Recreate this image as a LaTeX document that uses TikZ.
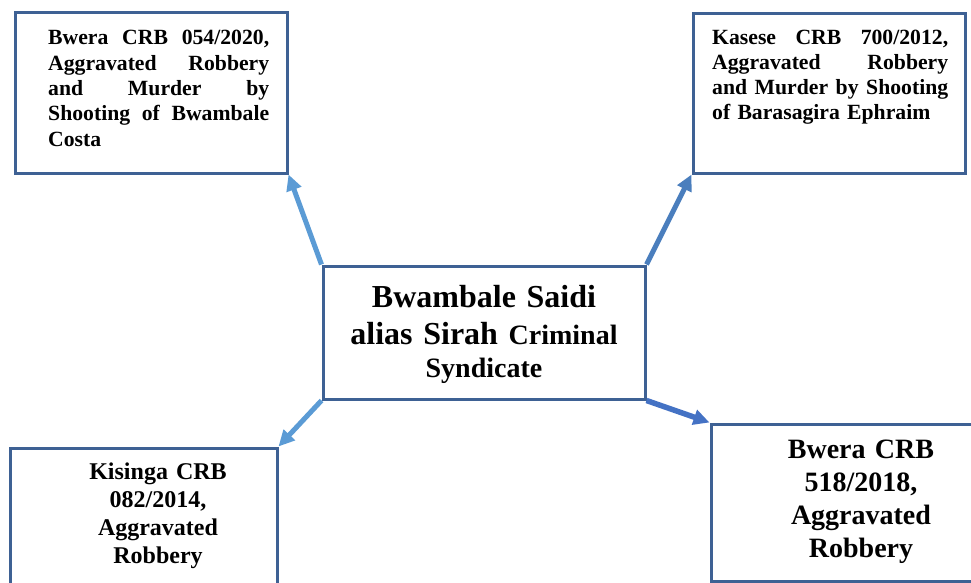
\documentclass[tikz,border=0pt]{standalone}
\usepackage{fontspec}
\setmainfont{Liberation Serif}
\usetikzlibrary{arrows.meta}

\definecolor{boxline}{HTML}{3E6194}
\definecolor{linklight}{HTML}{5B9BD5}
\definecolor{linkmid}{HTML}{4A7EBD}
\definecolor{linkdeep}{HTML}{4472C4}

% a line spread over the full text width (justified line);
% the gaps are marked with \hfill
\newcommand\fullline[1]{\makebox[\linewidth][s]{#1}}

\begin{document}
\begin{tikzpicture}[x=1pt,y=-1pt]
\tikzset{
  casebox/.style={draw=boxline, line width=3pt, rectangle, inner sep=0pt, fill=white},
  link/.style={line width=5pt, -{Triangle[length=16pt,width=15pt]}},
  lbl/.style={inner sep=0pt},
}
\clip (0,0) rectangle (971,583);

% case boxes
\node[casebox, minimum width=272pt, minimum height=160pt] (b1) at (151,93) {};
\node[casebox, minimum width=272pt, minimum height=159pt] (b2) at (829,93.5) {};
\node[casebox, minimum width=322pt, minimum height=133pt] (c) at (484,332.5) {};
\node[casebox, minimum width=267pt, minimum height=202pt] (b3) at (143.5,549) {};
\node[casebox, minimum width=289pt, minimum height=157pt] (b4) at (855.5,502.5) {};

% texts
\node[lbl, anchor=base west, text width=221pt,
      font=\bfseries\fontsize{21.7}{25.3}\selectfont] (t1) at (48,45)
  {\fullline{Bwera \hfill CRB \hfill 054/2020,}\\
   \fullline{Aggravated \hfill Robbery}\\
   \fullline{and \hfill Murder \hfill by}\\
   \fullline{Shooting \hfill of \hfill Bwambale}\\
   Costa};

\node[lbl, anchor=base west, text width=236pt,
      font=\bfseries\fontsize{21.7}{25}\selectfont] (t2) at (712,45)
  {\fullline{Kasese \hfill CRB \hfill 700/2012,}\\
   \fullline{Aggravated \hfill Robbery}\\
   \fullline{and \hfill Murder \hfill by \hfill Shooting}\\
   of Barasagira Ephraim};

\node[lbl, align=center, anchor=base, text width=300pt,
      font=\bfseries\fontsize{32}{37}\selectfont] (tc) at (484,307)
  {Bwambale Saidi\\
   alias Sirah {\fontsize{28}{33}\selectfont Criminal}\\[-4pt]
   {\fontsize{28}{33}\selectfont Syndicate}};

\node[lbl, align=center, anchor=base, text width=200pt,
      font=\bfseries\fontsize{24}{28}\selectfont] (t3) at (158,479)
  {Kisinga CRB\\082/2014,\\Aggravated\\Robbery};

\node[lbl, align=center, anchor=base, text width=220pt,
      font=\bfseries\fontsize{28}{33}\selectfont] (t4) at (861,458)
  {Bwera CRB\\518/2018,\\Aggravated\\Robbery};

% links from the syndicate to each case
\draw[link, draw=linklight, fill=linklight] (c.north west) -- (b1.south east);
\draw[link, draw=linkmid, fill=linkmid] (c.north east) -- (b2.south west);
\draw[link, draw=linklight, fill=linklight] (c.south west) -- (b3.north east);
\draw[link, draw=linkdeep, fill=linkdeep, line width=5.5pt] (c.south east) -- (b4.north west);
\end{tikzpicture}
\end{document}
